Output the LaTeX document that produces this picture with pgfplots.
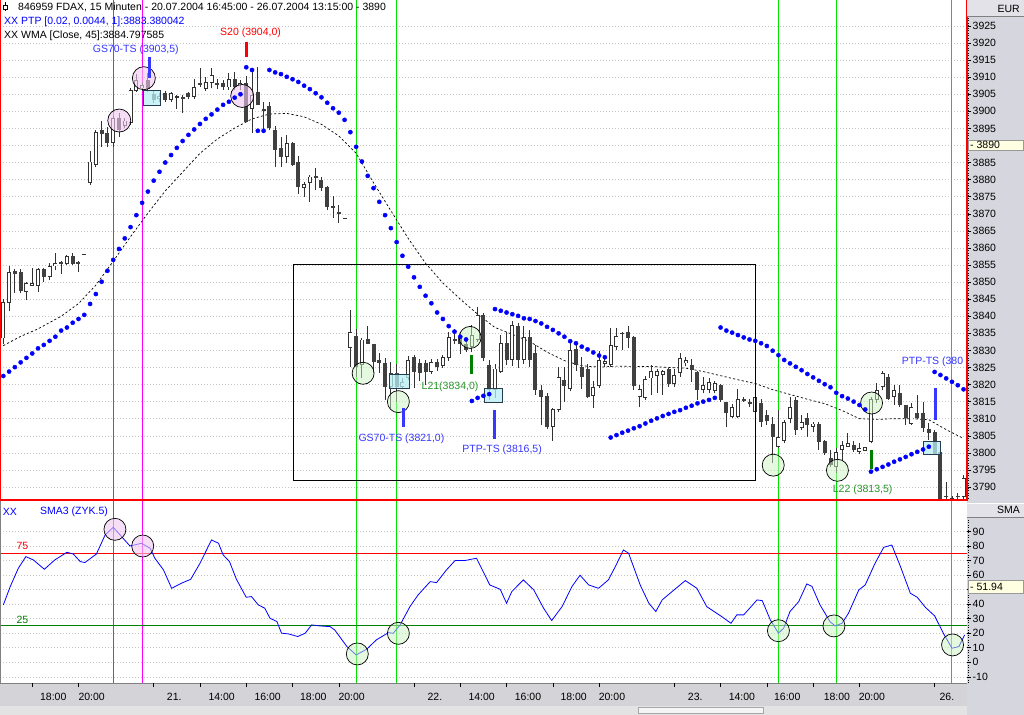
\documentclass[border=0pt]{standalone}
\usepackage{pgfplots}
\pgfplotsset{compat=1.18}
\usepackage{pgfplotstable}
\usepackage{fontspec}
\setmainfont{Liberation Sans}

\definecolor{colgray}{RGB}{214,214,222}
\definecolor{stripgray}{RGB}{212,212,216}
\definecolor{vmag}{RGB}{255,0,255}
\definecolor{vgreen}{RGB}{0,225,0}
\definecolor{ptpblue}{RGB}{0,0,255}
\definecolor{sigblue}{RGB}{55,55,255}
\definecolor{sgreen}{RGB}{40,150,40}
\definecolor{dkgreen}{RGB}{0,128,0}
\definecolor{pinkfill}{RGB}{242,200,242}
\definecolor{greenfill}{RGB}{205,245,195}
\definecolor{cyanfill}{RGB}{185,240,246}
\definecolor{boxline}{RGB}{40,60,80}
\definecolor{downbody}{RGB}{64,64,64}
\definecolor{wick}{RGB}{50,50,50}
\definecolor{hilite}{RGB}{255,255,225}

\newcommand{\cf}{\fontsize{10.5bp}{12bp}\selectfont}

% 15 minute candles: bar index, open, high, low, close
\pgfplotstableread{
x o h l c
0 3833.5 3845.0 3832.0 3844.2
1 3843.8 3854.7 3841.6 3853.0
2 3853.3 3853.7 3846.7 3852.4
3 3853.0 3853.7 3846.7 3847.5
4 3847.2 3850.1 3844.7 3849.8
5 3849.0 3854.0 3849.0 3849.8
6 3849.0 3854.0 3847.0 3853.7
7 3853.8 3854.1 3850.0 3851.5
8 3851.5 3855.5 3850.5 3854.7
9 3854.6 3858.6 3853.5 3855.5
10 3856.0 3856.2 3852.3 3855.3
11 3855.3 3858.0 3855.0 3857.6
12 3857.6 3858.5 3855.0 3855.3
13 3855.8 3856.3 3853.0 3855.3
14 3858.1 3858.1 3858.1 3858.1
15 3879.0 3888.5 3878.3 3885.3
16 3884.3 3894.5 3883.6 3894.0
17 3894.5 3897.3 3889.6 3893.3
18 3893.8 3895.3 3889.5 3890.8
19 3890.8 3898.5 3889.5 3898.0
20 3898.0 3899.5 3892.5 3894.5
21 3895.7 3898.0 3895.0 3897.3
22 3896.6 3906.8 3896.0 3906.3
23 3906.1 3910.9 3905.6 3909.2
24 3906.7 3908.5 3906.0 3907.7
25 3909.2 3911.2 3905.8 3906.5
26 3905.1 3906.0 3902.5 3903.3
27 3903.6 3905.5 3902.8 3904.6
28 3905.3 3906.0 3902.6 3903.3
29 3903.3 3905.8 3902.8 3905.3
30 3903.9 3904.8 3900.7 3904.5
31 3904.3 3904.8 3899.4 3903.8
32 3905.3 3905.6 3903.5 3904.3
33 3904.3 3909.4 3903.5 3907.0
34 3908.3 3912.6 3907.2 3907.8
35 3906.5 3910.0 3906.0 3908.7
36 3908.4 3912.6 3906.7 3910.6
37 3908.4 3909.5 3906.5 3907.7
38 3908.2 3909.2 3906.3 3907.0
39 3907.0 3911.1 3906.3 3909.4
40 3909.4 3911.6 3906.3 3907.0
41 3907.7 3909.2 3906.3 3908.4
42 3908.2 3910.4 3897.0 3897.0
43 3900.6 3912.6 3893.6 3904.8
44 3905.8 3912.9 3901.9 3901.9
45 3900.6 3902.8 3893.6 3900.2
46 3901.6 3902.8 3894.5 3895.0
47 3894.5 3895.7 3883.8 3888.7
48 3889.2 3892.6 3883.8 3886.5
49 3886.7 3893.1 3884.8 3890.6
50 3890.6 3891.0 3884.0 3884.3
51 3885.3 3886.9 3875.8 3877.9
52 3877.5 3879.4 3875.0 3878.7
53 3878.9 3881.4 3873.5 3880.9
54 3881.0 3883.3 3877.0 3880.6
55 3879.9 3880.9 3876.8 3877.5
56 3877.8 3878.0 3871.1 3872.1
57 3872.4 3875.2 3868.7 3871.6
58 3870.4 3872.6 3867.4 3870.0
59 3868.7 3868.7 3868.7 3868.7
60 3830.6 3841.8 3825.2 3835.5
61 3834.2 3836.2 3822.3 3825.2
62 3825.7 3833.5 3821.8 3833.2
63 3833.2 3837.1 3831.9 3832.0
64 3831.9 3832.0 3823.3 3826.7
65 3827.2 3829.3 3823.4 3826.2
66 3826.2 3827.7 3815.5 3819.4
67 3819.4 3826.5 3813.0 3823.3
68 3823.3 3826.0 3815.0 3819.2
69 3819.2 3822.0 3818.6 3820.8
70 3821.8 3828.3 3821.3 3827.2
71 3828.1 3828.6 3819.0 3823.7
72 3826.2 3827.5 3821.0 3823.4
73 3826.2 3827.2 3819.8 3823.7
74 3823.7 3827.4 3823.0 3826.7
75 3826.7 3827.4 3824.0 3825.2
76 3825.4 3828.7 3824.8 3828.1
77 3827.9 3835.5 3827.0 3833.8
78 3833.3 3836.3 3832.0 3833.0
79 3833.8 3835.5 3829.0 3831.9
80 3831.9 3833.0 3829.5 3830.2
81 3831.1 3837.5 3829.5 3834.5
82 3833.1 3842.8 3832.5 3840.4
83 3840.4 3841.0 3826.8 3827.7
84 3825.7 3827.2 3815.5 3818.4
85 3818.4 3826.0 3816.0 3824.7
86 3823.7 3834.5 3823.5 3832.1
87 3832.1 3835.5 3825.6 3827.2
88 3827.2 3838.6 3825.5 3837.4
89 3837.1 3838.1 3824.8 3827.2
90 3827.2 3837.0 3826.0 3834.0
91 3833.8 3836.0 3825.0 3827.2
92 3829.1 3831.5 3816.9 3818.4
93 3818.4 3819.8 3808.1 3816.4
94 3816.6 3817.4 3807.0 3807.6
95 3807.6 3813.1 3803.5 3812.7
96 3812.7 3825.2 3812.0 3822.3
97 3821.3 3825.0 3815.0 3819.6
98 3818.6 3833.0 3818.0 3830.1
99 3830.3 3831.9 3824.0 3825.7
100 3825.2 3828.0 3818.7 3822.3
101 3824.7 3826.0 3816.0 3816.4
102 3816.6 3821.0 3813.0 3819.4
103 3819.6 3829.8 3819.0 3827.2
104 3826.0 3828.5 3825.0 3827.0
105 3825.7 3836.7 3825.2 3831.6
106 3831.1 3836.7 3830.1 3834.2
107 3834.8 3835.5 3830.1 3835.2
108 3835.5 3837.0 3830.6 3833.5
109 3834.0 3834.2 3818.4 3819.6
110 3816.4 3819.9 3813.5 3818.6
111 3816.0 3822.5 3815.5 3821.5
112 3821.8 3825.7 3816.9 3824.1
113 3822.5 3824.7 3817.4 3824.1
114 3822.8 3824.3 3816.9 3824.1
115 3824.7 3824.8 3819.4 3820.3
116 3820.3 3824.7 3819.4 3822.8
117 3823.3 3829.1 3822.3 3827.7
118 3826.2 3828.0 3825.4 3827.2
119 3825.7 3827.4 3820.8 3824.2
120 3823.8 3824.1 3815.5 3818.4
121 3818.4 3822.3 3817.4 3819.9
122 3818.4 3821.8 3817.4 3820.8
123 3818.2 3821.1 3817.4 3820.5
124 3819.9 3820.3 3815.0 3815.5
125 3815.0 3815.0 3807.6 3811.6
126 3810.6 3814.3 3810.1 3813.5
127 3810.4 3818.6 3810.1 3815.7
128 3815.7 3816.4 3815.0 3815.3
129 3815.0 3815.7 3813.5 3814.3
130 3812.0 3817.0 3811.5 3816.4
131 3814.5 3815.7 3807.6 3809.1
132 3811.1 3812.5 3808.1 3809.4
133 3808.6 3810.6 3796.9 3804.7
134 3801.8 3812.5 3801.3 3804.7
135 3803.5 3809.6 3802.8 3809.1
136 3809.8 3816.4 3808.6 3813.5
137 3815.5 3816.4 3805.2 3806.7
138 3807.2 3811.1 3806.7 3809.1
139 3810.1 3811.6 3804.7 3808.1
140 3807.6 3809.1 3806.2 3808.6
141 3808.6 3809.1 3800.8 3803.3
142 3803.5 3803.7 3799.4 3800.0
143 3798.4 3800.8 3795.9 3796.4
144 3795.9 3801.3 3794.2 3800.3
145 3800.8 3803.5 3797.9 3802.3
146 3801.8 3805.9 3801.8 3802.8
147 3802.3 3803.5 3800.3 3800.8
148 3800.3 3803.0 3799.8 3801.3
149 3800.6 3801.8 3800.4 3801.6
150 3803.3 3816.4 3802.8 3815.9
151 3815.5 3820.5 3814.5 3818.4
152 3819.4 3824.1 3818.4 3823.3
153 3822.3 3823.1 3815.5 3815.9
154 3816.4 3819.9 3814.0 3818.4
155 3817.6 3819.9 3813.5 3814.0
156 3814.0 3814.0 3808.1 3810.1
157 3808.6 3814.5 3808.1 3813.5
158 3811.6 3816.9 3809.8 3810.1
159 3811.8 3815.0 3806.2 3807.2
160 3807.0 3808.6 3803.7 3805.7
161 3806.2 3806.7 3799.4 3799.8
162 3800.3 3800.3 3784.0 3784.0
163 3787.5 3791.5 3786.2 3787.0
164 3786.5 3787.5 3786.2 3786.8
165 3787.5 3788.3 3786.2 3787.0
166 3787.1 3793.5 3786.2 3792.6
}\candles

% PTP (parabolic stop) dots, one per bar
\pgfplotstableread{
x p
0 3822.5
1 3823.8
2 3825.1
3 3826.5
4 3827.8
5 3829.1
6 3830.6
7 3831.6
8 3832.8
9 3834.0
10 3835.8
11 3836.7
12 3838.1
13 3839.2
14 3840.4
15 3843.6
16 3846.5
17 3850.1
18 3853.3
19 3856.5
20 3859.7
21 3862.8
22 3866.1
23 3869.6
24 3873.2
25 3876.5
26 3879.7
27 3882.3
28 3885.0
29 3887.2
30 3889.3
31 3891.3
32 3893.1
33 3894.7
34 3896.3
35 3897.8
36 3899.1
37 3900.5
38 3901.9
39 3902.8
40 3904.0
41 3905.0
42 3912.9
43 3912.1
44 3894.3
45 3894.3
46 3912.1
47 3911.4
48 3910.9
49 3910.1
50 3909.4
51 3908.6
52 3907.5
53 3906.5
54 3905.3
55 3904.1
56 3902.5
57 3900.9
58 3899.6
59 3897.5
60 3893.9
61 3889.6
62 3885.3
63 3881.1
64 3877.5
65 3873.5
66 3869.6
67 3865.8
68 3861.7
69 3857.7
70 3854.5
71 3851.4
72 3848.6
73 3846.0
74 3843.8
75 3841.1
76 3839.2
77 3837.1
78 3835.5
79 3834.0
80 3833.2
81 3815.2
82 3816.1
83 3816.7
84 3817.2
85 3842.1
86 3841.6
87 3841.1
88 3840.6
89 3840.1
90 3839.4
91 3839.2
92 3838.6
93 3837.9
94 3836.9
95 3836.0
96 3835.0
97 3834.0
98 3832.7
99 3832.1
100 3831.1
101 3830.3
102 3829.4
103 3828.5
104 3828.0
105 3804.5
106 3805.2
107 3805.9
108 3806.5
109 3807.2
110 3807.8
111 3808.6
112 3809.4
113 3810.1
114 3810.8
115 3811.4
116 3812.0
117 3812.5
118 3813.2
119 3813.8
120 3814.5
121 3815.0
122 3815.5
123 3816.1
124 3836.7
125 3835.8
126 3835.2
127 3834.5
128 3833.8
129 3833.2
130 3832.8
131 3832.1
132 3831.3
133 3829.9
134 3828.6
135 3827.2
136 3826.2
137 3825.2
138 3824.2
139 3823.1
140 3822.1
141 3821.1
142 3820.1
143 3819.2
144 3817.6
145 3816.6
146 3815.9
147 3815.0
148 3814.0
149 3812.7
150 3794.5
151 3795.2
152 3795.9
153 3796.6
154 3797.4
155 3798.1
156 3798.8
157 3799.6
158 3800.3
159 3801.0
160 3801.8
161 3823.7
162 3822.8
163 3821.8
164 3820.8
165 3819.8
166 3818.6
}\ptp

% WMA 45
\pgfplotstableread{
x w
0 3831.4
3 3834.1
6 3836.3
10 3840.0
13 3843.7
16 3849.1
19 3856.1
22 3863.3
25 3870.2
28 3876.7
31 3882.2
34 3887.7
37 3891.9
40 3895.1
43 3897.8
46 3899.2
49 3899.4
52 3898.4
55 3896.2
58 3892.8
61 3887.7
64 3879.1
67 3870.9
70 3862.8
73 3855.5
76 3849.7
79 3845.0
82 3840.6
85 3836.7
88 3834.7
91 3832.6
94 3829.5
97 3827.0
100 3825.5
103 3825.1
106 3825.4
109 3825.3
112 3825.3
115 3825.0
118 3824.8
121 3823.8
124 3822.6
127 3821.4
130 3820.3
133 3818.5
136 3817.1
139 3815.7
142 3814.4
145 3812.4
148 3810.0
151 3809.8
154 3810.0
157 3810.0
160 3809.7
163 3806.8
166 3804.2
}\wma

\pgfplotsset{
  panel/.style={scale only axis, width=967bp, anchor=north west,
    xmin=-0.57, xmax=166.6,
    axis line style={draw=none},
    ytick pos=right, yticklabel pos=right,
    tick align=outside, major tick length=4bp,
    tick style={black, line width=0.5bp},
    ticklabel style={font=\cf, inner sep=1.5bp},
    ymajorgrids, grid style={gray!45, line width=0.5bp, dash pattern=on 1bp off 2bp},
    clip mode=individual},
  overlay/.style={scale only axis, width=967bp, anchor=north west,
    xmin=-0.57, xmax=166.6, axis line style={draw=none},
    xtick=\empty, ytick=\empty, clip mode=individual},
}
\tikzset{tlab/.style={font=\cf, inner sep=0, yshift=-14bp}}

\begin{document}
\begin{tikzpicture}[x=1bp,y=1bp]
\useasboundingbox (0,0) rectangle (1024,715);
\fill[white] (0,0) rectangle (1024,715);
\fill[colgray] (967,0) rectangle (1024,715);
\fill[stripgray] (0,9) rectangle (967,32);
\fill[gray!22] (0,0) rectangle (967,9);
\draw[gray, line width=0.8bp] (0,32) -- (967,32);
\fill[gray!8] (638,1.5) rectangle (763,7.5);
\draw[gray!70, line width=0.5bp] (638,1.5) rectangle (763,7.5);

% ---------------- price panel: grid, ticks, guides ----------------
\begin{axis}[panel, at={(0bp,715bp)}, height=500bp,
  ymin=3786.2, ymax=3932.6,
  xtick=\empty, ytick={3790,3795,...,3925},
  yticklabels={3790,3795,3800,3805,3810,3815,3820,3825,3830,3835,3840,3845,3850,3855,
    3860,3865,3870,3875,3880,3885,,3895,3900,3905,3910,3915,3920,3925}]
\addplot[vmag, line width=1bp] coordinates {(19,3786.2) (19,3932.6)};
\addplot[vmag, line width=1bp] coordinates {(24,3786.2) (24,3932.6)};
\addplot[vgreen, line width=1bp] coordinates {(61,3786.2) (61,3932.6)};
\addplot[vgreen, line width=1bp] coordinates {(68,3786.2) (68,3932.6)};
\addplot[vgreen, line width=1bp] coordinates {(134,3786.2) (134,3932.6)};
\addplot[vgreen, line width=1bp] coordinates {(144,3786.2) (144,3932.6)};
\addplot[vgreen, line width=1bp] coordinates {(164,3786.2) (164,3932.6)};
\addplot[black, line width=0.7bp, dash pattern=on 2.2bp off 2.2bp] table[x=x, y=w] {\wma};
\end{axis}

% ---------------- price panel: candles ----------------
\begin{axis}[overlay, at={(0bp,715bp)}, height=500bp, ymin=3786.2, ymax=3932.6]
\addplot[draw=none, no markers,
  error bars/.cd, y dir=plus, y explicit, error mark=none,
  error bar style={draw=wick, line width=0.9bp}]
  table[x=x, y=l, y error expr=\thisrow{h}-\thisrow{l}] {\candles};
\addplot[draw=none, no markers,
  x filter/.expression={\thisrow{c}<\thisrow{o} ? x : nan},
  error bars/.cd, y dir=both, y explicit, error mark=none,
  error bar style={draw=downbody, line width=4bp}]
  table[x=x, y expr=(\thisrow{o}+\thisrow{c})/2, y error expr={max(abs(\thisrow{c}-\thisrow{o})/2,0.2)}] {\candles};
\addplot[draw=none, no markers,
  x filter/.expression={\thisrow{c}>=\thisrow{o} ? x : nan},
  error bars/.cd, y dir=both, y explicit, error mark=none,
  error bar style={draw=wick, line width=4bp}]
  table[x=x, y expr=(\thisrow{o}+\thisrow{c})/2, y error expr={max(abs(\thisrow{c}-\thisrow{o})/2,0.2)}] {\candles};
\addplot[draw=none, no markers,
  x filter/.expression={\thisrow{c}-\thisrow{o}>0.6 ? x : nan},
  error bars/.cd, y dir=both, y explicit, error mark=none,
  error bar style={draw=white, line width=2.3bp}]
  table[x=x, y expr=(\thisrow{o}+\thisrow{c})/2, y error expr=(\thisrow{c}-\thisrow{o})/2-0.27] {\candles};
\end{axis}

% ---------------- price panel: signals ----------------
\begin{axis}[overlay, at={(0bp,715bp)}, height=500bp, ymin=3786.2, ymax=3932.6]
\addplot[black, line width=1bp] coordinates {(50.1,3855.2) (130.1,3855.2) (130.1,3792.0) (50.1,3792.0) (50.1,3855.2)};

\addplot[only marks, mark=*, mark size=11.5bp, mark options={draw=black, line width=0.7bp, fill=pinkfill, fill opacity=0.6}]
  coordinates {(20.05,3897.3) (24.3,3909.7) (41.3,3904.5)};
\addplot[only marks, mark=*, mark size=11bp, mark options={draw=black, line width=0.7bp, fill=greenfill, fill opacity=0.5}]
  coordinates {(62.2,3823.3) (68.3,3815.0) (80.7,3833.8) (133.1,3796.4) (144.2,3794.9) (150.1,3814.6)};

\addplot[draw=boxline, line width=0.8bp, fill=cyanfill, fill opacity=0.75]
  coordinates {(24.2,3906.0) (27.2,3906.0) (27.2,3901.8) (24.2,3901.8) (24.2,3906.0)};
\addplot[draw=boxline, line width=0.8bp, fill=cyanfill, fill opacity=0.75]
  coordinates {(66.8,3823.1) (70.2,3823.1) (70.2,3818.9) (66.8,3818.9) (66.8,3823.1)};
\addplot[draw=boxline, line width=0.8bp, fill=cyanfill, fill opacity=0.75]
  coordinates {(83.1,3818.9) (86.2,3818.9) (86.2,3814.7) (83.1,3814.7) (83.1,3818.9)};
\addplot[draw=boxline, line width=0.8bp, fill=cyanfill, fill opacity=0.75]
  coordinates {(159.0,3803.4) (162.0,3803.4) (162.0,3799.6) (159.0,3799.6) (159.0,3803.4)};

\addplot[only marks, mark=*, mark size=2.1bp, mark options={draw=ptpblue, fill=ptpblue}] table[x=x, y=p] {\ptp};

\addplot[sigblue, line width=3bp] coordinates {(25.2,3916.0) (25.2,3909.7)};
\addplot[red, line width=3bp] coordinates {(42.1,3920.4) (42.1,3915.8)};
\addplot[dkgreen, line width=3bp] coordinates {(81.0,3828.6) (81.0,3823.1)};
\addplot[sigblue, line width=3bp] coordinates {(69.1,3813.0) (69.1,3807.6)};
\addplot[sigblue, line width=3bp] coordinates {(85.0,3812.5) (85.0,3804.2)};
\addplot[dkgreen, line width=3bp] coordinates {(150.1,3800.8) (150.1,3795.4)};
\addplot[sigblue, line width=3bp] coordinates {(161.1,3818.9) (161.1,3809.6)};

\node[anchor=west, font=\cf, text=sigblue, inner sep=0] at (axis cs:15.45,3918.0) {GS70-TS (3903,5)};
\node[anchor=west, font=\cf, text=red, inner sep=0] at (axis cs:37.46,3922.9) {S20 (3904,0)};
\node[anchor=west, font=\cf, text=sgreen, inner sep=0] at (axis cs:72.3,3819.4) {L21(3834,0)};
\node[anchor=west, font=\cf, text=sigblue, inner sep=0] at (axis cs:61.37,3804.2) {GS70-TS (3821,0)};
\node[anchor=west, font=\cf, text=sigblue, inner sep=0] at (axis cs:79.34,3800.8) {PTP-TS (3816,5)};
\node[anchor=west, font=\cf, text=sgreen, inner sep=0] at (axis cs:143.37,3789.1) {L22 (3813,5)};
\node[anchor=west, font=\cf, text=sigblue, inner sep=0] at (axis cs:155.3,3826.7) {PTP-TS (380};

\draw[red, line width=1.4bp] (rel axis cs:0,1) -- (rel axis cs:0,0) -- (rel axis cs:1,0) -- (rel axis cs:1,1);
\end{axis}

% ---------------- oscillator panel ----------------
\begin{axis}[panel, at={(0bp,214bp)}, height=182bp,
  ymin=-14.3, ymax=111,
  xtick={5,13,26,34,42,50,58,71,79,87,95,103,116,124,132,140,148,161},
  xtick pos=bottom, xticklabels={},
  ytick={-10,0,...,90}, yticklabels={-10,0,10,20,30,40,,60,70,80,90}]

\addplot[vmag, line width=1bp] coordinates {(19,-14.3) (19,111)};
\addplot[vmag, line width=1bp] coordinates {(24,-14.3) (24,111)};
\addplot[vgreen, line width=1bp] coordinates {(61,-14.3) (61,111)};
\addplot[vgreen, line width=1bp] coordinates {(68,-14.3) (68,111)};
\addplot[vgreen, line width=1bp] coordinates {(134,-14.3) (134,111)};
\addplot[vgreen, line width=1bp] coordinates {(144,-14.3) (144,111)};
\addplot[vgreen, line width=1bp] coordinates {(164,-14.3) (164,111)};

\addplot[red, line width=1bp] coordinates {(-0.57,75) (166.6,75)};
\addplot[dkgreen, line width=1bp] coordinates {(-0.57,25) (166.6,25)};

\addplot[ptpblue, line width=0.8bp] coordinates {
(0,39.4) (1.2,52.1) (2.6,64.7) (3.9,72.7) (5.2,70.4) (7.1,64.0) (8.9,70.4) (11.0,75.7)
(12.1,74.5) (13.3,69.3) (14.1,68.6) (16.1,74.5) (17.6,87.6) (19.0,92.9) (20.2,87.6)
(21.9,80.0) (23.9,81.9) (25.4,78.4) (26.2,71.6) (27.7,63.5) (29.1,50.9) (30.8,54.4)
(32.4,57.1) (34.0,68.1) (36.0,84.2) (37.2,81.9) (38.0,73.9) (39.1,69.3) (40.3,57.1)
(42.0,44.7) (42.9,45.2) (44.1,39.4) (45.2,37.2) (46.1,30.3) (47.3,28.0) (48.1,20.0)
(49.3,19.5) (50.9,17.7) (52.2,20.0) (53.3,25.7) (54.7,25.0) (56.5,24.5) (57.3,22.2)
(59.4,10.8) (61.0,5.0) (62.8,8.9) (64.5,15.4) (66.6,20.4) (67.4,19.9) (68.6,25.7)
(70.3,38.3) (71.7,46.3) (73.8,55.5) (74.9,54.8) (76.6,63.5) (78.1,70.0) (79.8,70.0)
(81.8,71.6) (84.1,53.2) (85.9,50.2) (87.0,40.6) (87.9,48.6) (89.9,56.7) (91.7,49.8)
(93.4,37.2) (94.8,28.7) (96.6,38.3) (98.3,52.1) (99.7,59.9) (101.2,53.2) (102.9,50.9)
(104.6,56.7) (105.8,65.8) (107.2,77.3) (108.1,75.0) (110.1,53.2) (111.6,40.6)
(112.8,34.9) (113.9,42.9) (115.6,48.6) (117.9,56.2) (119.9,50.9) (121.6,38.3)
(124.2,31.4) (125.8,26.8) (126.8,32.6) (128.0,32.6) (130.3,42.9) (131.2,42.4)
(132.6,29.1) (134.0,20.0) (134.9,23.4) (136.0,34.9) (137.5,41.7) (138.9,53.9)
(139.8,52.1) (141.2,39.4) (142.9,28.0) (143.8,25.0) (145.0,26.8) (146.1,33.7)
(147.9,49.8) (149.0,53.2) (150.7,68.1) (152.2,79.1) (153.6,80.7) (155.1,65.8)
(156.8,47.5) (158.0,44.7) (159.4,37.8) (161.0,31.9) (162.5,20.0) (164.0,9.6)
(165.2,10.8) (166.2,18.8)};

\addplot[only marks, mark=*, mark size=11bp, mark options={draw=black, line width=0.7bp, fill=pinkfill, fill opacity=0.6}]
  coordinates {(19.3,91.5) (24.1,80.0)};
\addplot[only marks, mark=*, mark size=11bp, mark options={draw=black, line width=0.7bp, fill=greenfill, fill opacity=0.5}]
  coordinates {(61.2,5.7) (68.3,19.9) (134.0,21.7) (143.6,25.0) (164.1,11.9)};

\node[anchor=west, font=\cf, text=ptpblue, inner sep=0] at (axis cs:-0.1,103.4) {XX};
\node[anchor=west, font=\cf, text=ptpblue, inner sep=0] at (axis cs:6.34,103.4) {SMA3 (ZYK.5)};
\node[font=\cf, text=red, inner sep=0] at (axis cs:3.3,80.2) {75};
\node[font=\cf, text=dkgreen, inner sep=0] at (axis cs:3.3,29.3) {25};

\node[tlab] at (axis cs:8.64,-14.3) {18:00};
\node[tlab] at (axis cs:15.28,-14.3) {20:00};
\node[tlab] at (axis cs:29.56,-14.3) {21.};
\node[tlab] at (axis cs:37.75,-14.3) {14:00};
\node[tlab] at (axis cs:45.70,-14.3) {16:00};
\node[tlab] at (axis cs:53.59,-14.3) {18:00};
\node[tlab] at (axis cs:60.22,-14.3) {20:00};
\node[tlab] at (axis cs:74.62,-14.3) {22.};
\node[tlab] at (axis cs:82.70,-14.3) {14:00};
\node[tlab] at (axis cs:90.70,-14.3) {16:00};
\node[tlab] at (axis cs:98.60,-14.3) {18:00};
\node[tlab] at (axis cs:105.22,-14.3) {20:00};
\node[tlab] at (axis cs:119.62,-14.3) {23.};
\node[tlab] at (axis cs:127.69,-14.3) {14:00};
\node[tlab] at (axis cs:135.52,-14.3) {16:00};
\node[tlab] at (axis cs:144.11,-14.3) {18:00};
\node[tlab] at (axis cs:150.16,-14.3) {20:00};
\node[tlab] at (axis cs:163.13,-14.3) {26.};

\draw[gray, line width=0.8bp] (rel axis cs:0,0) -- (rel axis cs:0,1);
\end{axis}

% ---------------- right column and header ----------------
\draw[black, line width=0.6bp, dash pattern=on 1bp off 1.5bp] (968.5,697) -- (968.5,215);
\draw[black, line width=0.6bp, dash pattern=on 1bp off 1.5bp] (968.5,195) -- (968.5,32);
\fill[colgray!70!white] (967,699) rectangle (1024,715);
\draw[gray, line width=0.6bp] (967,699) -- (1024,699);
\node[anchor=east, font=\cf, inner sep=0] at (1020,706) {EUR};
\fill[colgray!70!white] (967,198) rectangle (1024,212);
\draw[gray, line width=0.6bp] (967,198) -- (1024,198);
\draw[white, line width=0.6bp] (967,212) -- (1024,212);
\node[anchor=east, font=\cf, inner sep=0] at (1020,205) {SMA};

\fill[hilite] (968.5,564.3) rectangle (1023,575);
\draw[gray!80, line width=0.5bp] (968.5,564.3) rectangle (1023,575);
\node[anchor=west, font=\cf, inner sep=0] at (970,569.7) {- 3890};
\fill[hilite] (968.5,122) rectangle (1023,134.3);
\draw[gray!80, line width=0.5bp] (968.5,122) rectangle (1023,134.3);
\node[anchor=west, font=\cf, inner sep=0] at (970,128.1) {- 51.94};

\draw[black, line width=0.8bp] (5,712.5) -- (5,703.5);
\draw[black, line width=0.8bp, fill=white] (3,706) rectangle (7,710);
\node[anchor=west, font=\cf, inner sep=0] at (18,708) {846959 FDAX, 15 Minuten - 20.07.2004 16:45:00 - 26.07.2004 13:15:00 - 3890};
\node[anchor=west, font=\cf, text=ptpblue, inner sep=0] at (4,693) {XX PTP [0.02, 0.0044, 1]:3883.380042};
\node[anchor=west, font=\cf, inner sep=0] at (4,679) {XX WMA [Close, 45]:3884.797585};
\end{tikzpicture}
\end{document}
